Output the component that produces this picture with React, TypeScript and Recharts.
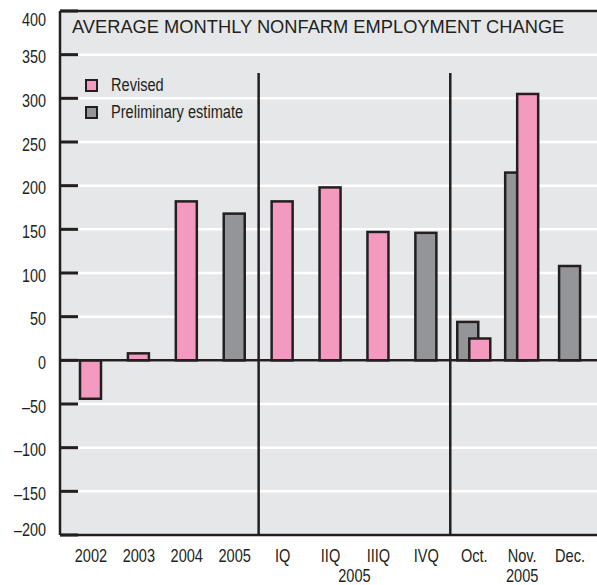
import { BarChart, Bar, XAxis, YAxis, CartesianGrid, ReferenceLine, Legend } from "recharts";

const periods = ["2002", "2003", "2004", "2005", "IQ", "IIQ", "IIIQ", "IVQ", "Oct.", "Nov.", "Dec."];
const revised = [-44, 8, 182, null, 182, 198, 147, null, 25, 305, null];
const preliminary = [null, null, null, 168, null, null, null, 146, 44, 215, 108];
const yTicks = [-200, -150, -100, -50, 0, 50, 100, 150, 200, 250, 300, 350, 400];
const dividersAfter = ["2005", "IVQ"];
const title = "AVERAGE MONTHLY NONFARM EMPLOYMENT CHANGE";

const data = periods.map((period, i) => ({
  period,
  revised: revised[i],
  preliminary: preliminary[i],
}));

const INK = "#231f20";
const PINK = "#f49ac1";
const GRAY = "#939598";
const PANEL = "#e6e7e8";
const SANS = "'Liberation Sans', Arial, sans-serif";

const BAR = 21;
const GAP = -9;
// a bar with no partner in its period sits in the middle of the band
const SOLO = (BAR + GAP) / 2;
const TICK_LEN = 18;

const barShape = (fill: string, soloShift: number) => (props: any) => {
  const { x, y, width, height, payload } = props;
  if (height == null || isNaN(height)) return <g />;
  const solo = payload.revised == null || payload.preliminary == null;
  const top = Math.min(y, y + height);
  return (
    <rect
      x={x + (solo ? soloShift : 0)}
      y={top}
      width={width}
      height={Math.abs(height)}
      fill={fill}
      stroke={INK}
      strokeWidth={2.5}
    />
  );
};

const fmt = (v: number) => (v < 0 ? `\u2013${Math.abs(v)}` : `${v}`);

// condensed look: the installed sans squeezed horizontally
function Narrow({ x, y, anchor, size, squeeze, children }: any) {
  return (
    <text
      transform={`translate(${x} ${y}) scale(${squeeze} 1)`}
      textAnchor={anchor}
      fontSize={size}
      fontFamily={SANS}
      fill={INK}
    >
      {children}
    </text>
  );
}

function YTick({ x, y, payload }: any) {
  const v = payload.value;
  const dy = v === 400 ? 15 : v === -200 ? 1 : 8.5;
  return (
    <g>
      <rect x={x} y={y - 1.5} width={TICK_LEN} height={3} fill={INK} />
      <Narrow x={x - 14} y={y + dy} anchor="end" size={18} squeeze={0.8}>
        {fmt(v)}
      </Narrow>
    </g>
  );
}

function XTick({ x, y, payload }: any) {
  const v = payload.value;
  const half = payload.offset ?? 24;
  return (
    <g>
      <Narrow x={x} y={y + 27} anchor="middle" size={18} squeeze={0.81}>{v}</Narrow>
      {v === "IIQ" && (
        <Narrow x={x + half} y={y + 47} anchor="middle" size={18} squeeze={0.81}>2005</Narrow>
      )}
      {v === "Nov." && (
        <Narrow x={x} y={y + 47} anchor="middle" size={18} squeeze={0.81}>2005</Narrow>
      )}
    </g>
  );
}

// white grid lines start after the inward tick marks
function GridLine(props: any) {
  const { x1, x2, y1, y2 } = props;
  return <line x1={x1 + TICK_LEN} x2={x2} y1={y1} y2={y2} stroke="#ffffff" strokeWidth={2.5} />;
}

function LegendBox({ payload }: any) {
  const items = [...(payload ?? [])].reverse();
  return (
    <div style={{ fontFamily: SANS, fontSize: 18, color: INK }}>
      {items.map((it: any) => (
        <div key={it.value} style={{ display: "flex", alignItems: "center", height: 27 }}>
          <span
            style={{
              flex: "none",
              width: 9,
              height: 9,
              background: it.color,
              border: `2.5px solid ${INK}`,
              marginRight: 13,
            }}
          />
          <span style={{ display: "inline-block", transform: "scaleX(0.81)", transformOrigin: "left center", whiteSpace: "nowrap" }}>
            {it.value}
          </span>
        </div>
      ))}
    </div>
  );
}

export default function App() {
  return (
    <div style={{ position: "relative", width: 597, height: 585, overflow: "hidden", background: "#fff" }}>
      <style>{"body{margin:0}"}</style>
      <div style={{ position: "absolute", left: 60, top: 11, width: 560, height: 524, background: PANEL }} />
      <BarChart
        width={610}
        height={585}
        data={data}
        barSize={BAR}
        barGap={GAP}
        margin={{ top: 11, right: 0, left: 0, bottom: 0 }}
      >
        <CartesianGrid vertical={false} horizontal={(p: any) => <GridLine key={p.key} {...p} />} />
        <XAxis
          dataKey="period"
          height={50}
          padding={{ left: 7, right: 16 }}
          tickLine={false}
          tickSize={0}
          tickMargin={0}
          axisLine={{ stroke: INK, strokeWidth: 2.5 }}
          tick={<XTick />}
          interval={0}
        />
        <YAxis
          width={60}
          domain={[-200, 400]}
          ticks={yTicks}
          type="number"
          tickLine={false}
          tickSize={0}
          tickMargin={0}
          axisLine={{ stroke: INK, strokeWidth: 2.5 }}
          tick={<YTick />}
          interval={0}
        />
        <Legend
          layout="vertical"
          align="center"
          verticalAlign="middle"
          content={<LegendBox />}
          wrapperStyle={{ left: 85, top: 72, width: 220 }}
        />
        <ReferenceLine y={400} stroke={INK} strokeWidth={2.5} />
        <ReferenceLine y={0} stroke={INK} strokeWidth={2.5} />
        {dividersAfter.map((p) => (
          <ReferenceLine
            key={p}
            segment={[
              { x: p, y: -200 },
              { x: p, y: 329 },
            ]}
            position="end"
            stroke={INK}
            strokeWidth={2.5}
          />
        ))}
        <Bar
          dataKey="preliminary"
          name="Preliminary estimate"
          fill={GRAY}
          shape={barShape(GRAY, SOLO)}
          isAnimationActive={false}
        />
        <Bar
          dataKey="revised"
          name="Revised"
          fill={PINK}
          shape={barShape(PINK, -SOLO)}
          isAnimationActive={false}
        />
      </BarChart>
      <div
        style={{
          position: "absolute",
          left: 72,
          top: 18,
          fontFamily: SANS,
          fontSize: 18.3,
          lineHeight: "18px",
          color: INK,
          whiteSpace: "nowrap",
        }}
      >
        {title}
      </div>
    </div>
  );
}
